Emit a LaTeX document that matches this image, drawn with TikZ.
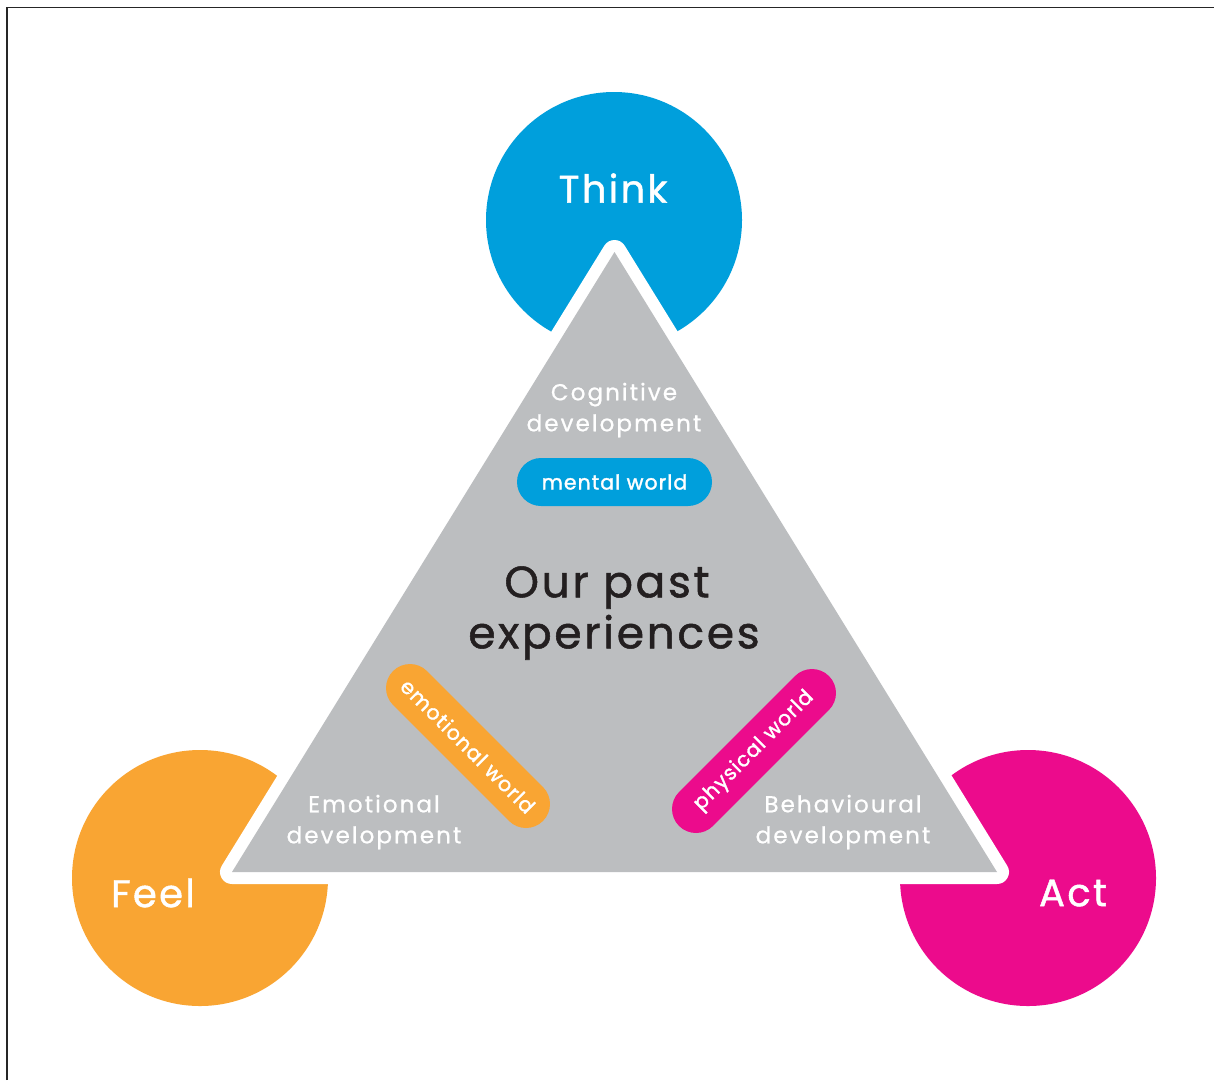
\documentclass[tikz,border=0pt]{standalone}
\usepackage{fontspec}
\setmainfont{Poppins}
\newfontfamily\wide[LetterSpace=6, FakeBold=1.2]{Poppins}
\newfontfamily\widelight[LetterSpace=9, FakeBold=0.8]{Poppins}
\newfontfamily\pillfont[LetterSpace=5, FakeBold=1.6]{Poppins}
\usetikzlibrary{shapes.misc}
\definecolor{thinkblue}{HTML}{009FDC}
\definecolor{feelorange}{HTML}{F9A533}
\definecolor{actpink}{HTML}{EC0B8C}
\definecolor{coregray}{HTML}{BCBEC0}
\definecolor{inkdark}{HTML}{231F20}
\tikzset{
  bubble/.style={circle, minimum size=256pt, inner sep=0pt},
  bigword/.style={text=white, font=\wide\fontsize{38.5}{44}\selectfont},
  devlabel/.style={text=white, align=center, font=\widelight\fontsize{23}{31}\selectfont},
  pill/.style={rounded rectangle, minimum height=48pt, inner sep=0pt, text=white,
               font=\pillfont\fontsize{20.5}{22}\selectfont}
}
\begin{document}
\begin{tikzpicture}[x=1pt, y=-1pt]
  \useasboundingbox (0,0) rectangle (1214,1080);
  \fill[white] (0,0) rectangle (1214,1080);
  % frame edges
  \draw[line width=1.5pt, black!85] (7,1080) -- (7,7.5) -- (1214,7.5);
  % the three outer circles
  \node[bubble, fill=thinkblue] (think) at (614,220) {};
  \node[bubble, fill=feelorange] (feel) at (200,878) {};
  \node[bubble, fill=actpink] (act) at (1028,878) {};
  % central triangle with a white rim
  \coordinate (apex) at (614.5,252);
  \coordinate (left) at (232,872);
  \coordinate (right) at (997,872);
  \filldraw[fill=coregray, draw=white, line width=24pt, line join=round]
    (apex) -- (left) -- (right) -- cycle;
  \fill[coregray] (apex) -- (left) -- (right) -- cycle;
  % circle titles
  \node[bigword] (thinkword) at (613,188) {Think};
  \node[bigword] (feelword) at (153,893) {Feel};
  \node[bigword] (actword) at (1073,893) {Act};
  % development labels
  \node[devlabel] (cog) at (614,410) {Cognitive\\development};
  \node[devlabel] (emo) at (374,822) {Emotional\\development};
  \node[devlabel] (beh) at (843,822) {Behavioural\\development};
  % world pills
  \node[pill, fill=thinkblue, minimum width=195pt] (mental) at (614.5,482) {mental world};
  \node[pill, fill=feelorange, minimum width=212pt, rotate=-45] (emotional) at (468,746) {emotional world};
  \node[pill, fill=actpink, minimum width=212pt, rotate=45] (physical) at (754,751) {physical world};
  % centre
  \node[text=inkdark, align=center, font=\wide\fontsize{44}{51}\selectfont] (core) at (614,613)
    {Our past\hspace*{14pt}\\experiences};
\end{tikzpicture}
\end{document}
